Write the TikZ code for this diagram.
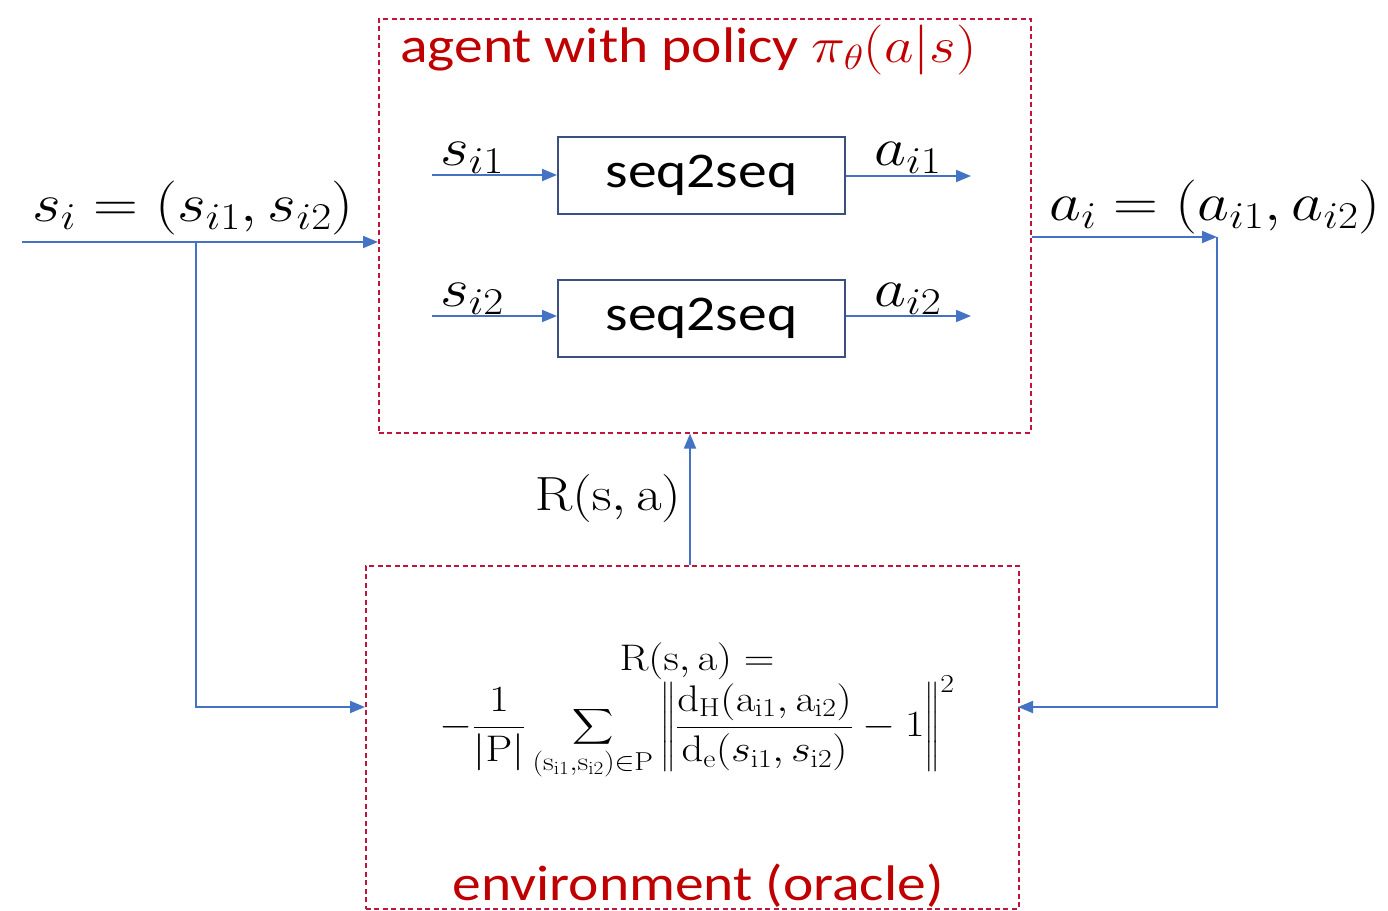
\RequirePackage{fix-cm}
\documentclass[tikz,border=0pt]{standalone}
\usepackage{amsmath}
\usepackage[no-math]{fontspec}
\setmainfont{Carlito}
\usetikzlibrary{arrows.meta}
\definecolor{myblue}{HTML}{4472C4}
\definecolor{myred}{HTML}{C00000}
\definecolor{dashred}{HTML}{C0143C}
\definecolor{boxc}{HTML}{3B4F81}
\newcommand\hs[1]{\scalebox{1.15}[1]{#1}}
\begin{document}
\begin{tikzpicture}[x=1pt,y=-1pt,
  dbox/.style={draw=dashred, line width=1.6pt, dash pattern=on 5pt off 3.5pt, inner sep=0pt, anchor=north west},
  sbox/.style={draw=boxc, line width=1.8pt, minimum width=287pt, minimum height=77pt, inner sep=0pt, anchor=north west, font=\fontsize{50}{60}\selectfont},
  arr/.style={draw=myblue, line width=1.8pt, -{Triangle[length=15pt,width=12pt]}},
  mlab/.style={inner sep=0pt, font=\fontsize{54}{64}\selectfont},
  title/.style={inner sep=0pt, text=myred, font=\fontsize{50}{60}\selectfont},
  frm/.style={inner sep=0pt, font=\fontsize{37}{43}\selectfont}]
\useasboundingbox (0,0) rectangle (1388,910);
\fill[white] (0,0) rectangle (1388,910);

% boxes
\node[dbox, minimum width=652pt, minimum height=414pt] (agent) at (378,18) {};
\node[dbox, minimum width=653pt, minimum height=343pt] (env) at (365,565) {};
\node[sbox] (s1) at (557,136) {\hs{seq2seq}};
\node[sbox] (s2) at (557,279) {\hs{seq2seq}};

% titles
\node[title, anchor=base west] (agtitle) at (400,62) {\hs{agent with policy $\pi_\theta(a|s)$}};
\node[title, anchor=base] (envtitle) at (698,900) {\hs{environment (oracle)}};

% inner arrows
\coordinate (i1) at (432,175);
\coordinate (i2) at (432,316);
\coordinate (o1) at (971,176);
\coordinate (o2) at (971,316);
\draw[arr] (i1) -- (i1 -| s1.west);
\draw[arr] (i2) -- (i2 -| s2.west);
\draw[arr] (s1.east |- o1) -- (o1);
\draw[arr] (s2.east |- o2) -- (o2);
\node[mlab, anchor=base] (ls1) at (472,165) {\hs{$s_{i1}$}};
\node[mlab, anchor=base] (ls2) at (472,306) {\hs{$s_{i2}$}};
\node[mlab, anchor=base] (la1) at (908,165) {\hs{$a_{i1}$}};
\node[mlab, anchor=base] (la2) at (908,306) {\hs{$a_{i2}$}};

% left input
\coordinate (in) at (22,242);
\coordinate (br) at (196,242);
\coordinate (envin) at (365,707);
\draw[arr] (in) -- (in -| agent.west);
\draw[arr] (br) |- (envin);
\node[mlab, anchor=base] (lsi) at (193,221) {\hs{$s_i = (s_{i1}, s_{i2})$}};

% right output
\coordinate (out) at (1217,237);
\coordinate (envout) at (1018,707);
\draw[arr] (out -| agent.east) -- (out);
\draw[arr] (out) |- (envout);
\node[mlab, anchor=base] (lai) at (1215,220) {\hs{$a_i = (a_{i1}, a_{i2})$}};

% reward
\coordinate (rb) at (690,565);
\draw[arr] (rb) -- (rb |- agent.south);
\node[inner sep=0pt, anchor=base east, font=\fontsize{48}{58}\selectfont] (lr) at (681,510) {\hs{$\mathrm{R(s,a)}$}};

% formula
\node[frm, anchor=center] (f) at (697,710) {\hs{$\begin{gathered}
  \mathrm{R(s,a)} = \\[-12pt]
  \displaystyle -\frac{1}{|\mathrm{P}|}\sum_{(\mathrm{s_{i1}},\mathrm{s_{i2}})\in \mathrm{P}} \left\|\frac{\mathrm{d_H(a_{i1},a_{i2})}}{\mathrm{d_e}(s_{\mathrm{i1}},s_{\mathrm{i2}})} - 1\right\|^2
\end{gathered}$}};
\end{tikzpicture}
\end{document}
